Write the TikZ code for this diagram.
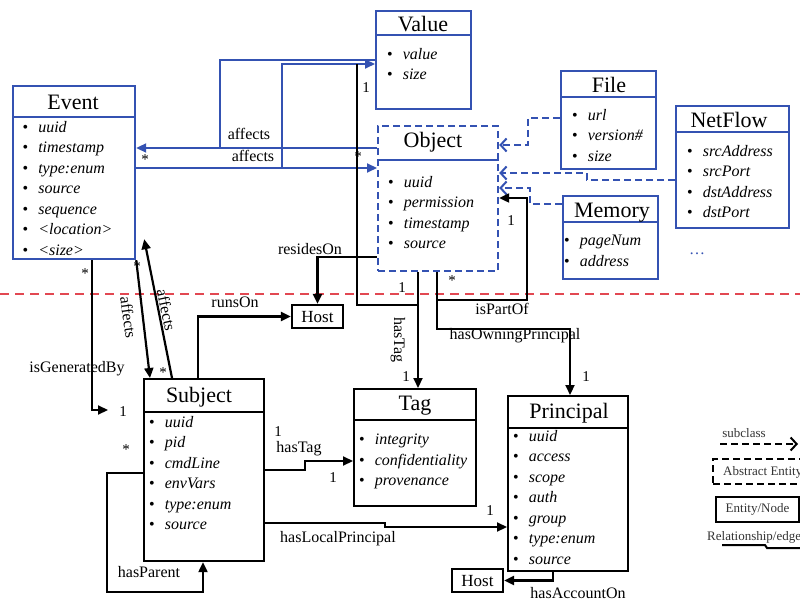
\documentclass[tikz,border=0pt]{standalone}
\usepackage{fontspec}
\usepackage{tikz}
\usetikzlibrary{arrows.meta}
\usetikzlibrary{positioning}
\setmainfont{Liberation Serif}
\definecolor{umlblue}{RGB}{52,82,178}
\definecolor{sepred}{RGB}{226,72,82}
\newcommand{\itm}{\textup{\textbullet}\hspace{10pt}}
\tikzset{cls/.style = {draw, line width=2.2pt, inner sep=0pt, anchor=north west},
         bcls/.style = {cls, draw=umlblue},
         acls/.style = {cls, draw=umlblue, dash pattern=on 7pt off 4pt},
         hostbox/.style = {draw, line width=2.2pt, minimum width=51pt, minimum height=23pt,
                           inner sep=0pt, text height=11.5pt, text depth=0pt,
                           font=\fontsize{17}{19}\selectfont},
         divline/.style = {line width=2pt},
         ttl/.style = {font=\fontsize{22}{24}\selectfont, inner sep=0pt, anchor=base},
         itms/.style = {font=\fontsize{16}{20.5}\selectfont\itshape, align=left,
                        inner sep=0pt, anchor=north west},
         lbl/.style = {font=\fontsize{16}{18}\selectfont, inner sep=0pt, anchor=base},
         mul/.style = {font=\fontsize{15}{17}\selectfont, inner sep=0pt},
         legtxt/.style = {font=\fontsize{13}{15}\selectfont, text=black!80, inner sep=0pt, anchor=base},
         plainrel/.style = {line width=2.2pt},
         rel/.style = {plainrel, -{Triangle[length=10pt, width=9pt]}},
         bline/.style = {line width=2pt, draw=umlblue},
         brel/.style = {bline, -{Triangle[length=10pt, width=9pt]}},
         subrel/.style = {draw=umlblue, line width=2pt, dash pattern=on 7pt off 4pt,
                          -{Straight Barb[length=6pt, width=13pt]}}}

\begin{document}
\begin{tikzpicture}[x=1pt, y=-1pt]
  \useasboundingbox (0,0) rectangle (800,601);
  \clip (0,0) rectangle (800,601);

  % upper part: events, objects
  \node [bcls, minimum width=122pt, minimum height=173pt] (event) at (12,85) {};
  \draw [divline, umlblue] (event.west |- 0,117) -- (event.east |- 0,117);
  \node [ttl] (event-t) at (73,110) {Event};
  \node [itms] (event-i) at (22.5,121) {\itm uuid\\ \itm timestamp\\ \itm type:enum\\
    \itm source\\ \itm sequence\\ \itm <location>\\ \itm <size>};

  \node [bcls, minimum width=95pt, minimum height=98pt] (value) at (375,10) {};
  \draw [divline, umlblue] (value.west |- 0,35) -- (value.east |- 0,35);
  \node [ttl] (value-t) at (423,32) {Value};
  \node [itms] (value-i) at (387,48) {\itm value\\ \itm size};

  \node [acls, minimum width=120pt, minimum height=145pt] (object) at (377,125) {};
  \draw [divline, umlblue] (object.west |- 0,160) -- (object.east |- 0,160);
  \node [ttl] (object-t) at (433,148) {Object};
  \node [itms] (object-i) at (388,176) {\itm uuid\\ \itm permission\\ \itm timestamp\\ \itm source};

  \node [bcls, minimum width=95pt, minimum height=98pt] (file) at (560,70) {};
  \draw [divline, umlblue] (file.west |- 0,97) -- (file.east |- 0,97);
  \node [ttl] (file-t) at (609,93) {File};
  \node [itms] (file-i) at (572,109) {\itm url\\ \itm version\#\\ \itm size};

  \node [bcls, minimum width=113pt, minimum height=122pt] (netflow) at (675,105) {};
  \draw [divline, umlblue] (netflow.west |- 0,132) -- (netflow.east |- 0,132);
  \node [ttl] (netflow-t) at (729,128) {NetFlow};
  \node [itms] (netflow-i) at (687,145) {\itm srcAddress\\ \itm srcPort\\ \itm dstAddress\\ \itm dstPort};

  \node [bcls, minimum width=95pt, minimum height=83pt] (memory) at (562,195) {};
  \draw [divline, umlblue] (memory.west |- 0,222) -- (memory.east |- 0,222);
  \node [ttl] (memory-t) at (612,218) {Memory};
  \node [itms] (memory-i) at (564,235) {\itm pageNum\\ \itm address};

  \node [text=umlblue, font=\fontsize{16}{18}\selectfont] (more) at (697,254) {\dots};

  % lower part: subjects, principals
  \node [cls, minimum width=120pt, minimum height=182pt] (subject) at (143,378) {};
  \draw [divline] (subject.west |- 0,412) -- (subject.east |- 0,412);
  \node [ttl] (subject-t) at (199,402) {Subject};
  \node [itms] (subject-i) at (149,416) {\itm uuid\\ \itm pid\\ \itm cmdLine\\ \itm envVars\\
    \itm type:enum\\ \itm source};

  \node [cls, minimum width=122pt, minimum height=117pt] (tag) at (353,388) {};
  \draw [divline] (tag.west |- 0,420) -- (tag.east |- 0,420);
  \node [ttl] (tag-t) at (415,410) {Tag};
  \node [itms] (tag-i) at (359,434) {\itm integrity\\ \itm confidentiality\\ \itm provenance};

  \node [cls, minimum width=120pt, minimum height=175pt] (principal) at (507,395) {};
  \draw [divline] (principal.west |- 0,428) -- (principal.east |- 0,428);
  \node [ttl] (principal-t) at (569,418) {Principal};
  \node [itms] (principal-i) at (513,430) {\itm uuid\\ \itm access\\ \itm scope\\ \itm auth\\
    \itm group\\ \itm type:enum\\ \itm source};

  \node [hostbox] (host1) at (317.5,316.5) {Host};
  \node [hostbox] (host2) at (477.5,580.5) {Host};
  \coordinate (gen) at (108,410);

  \draw [sepred, line width=2pt, dash pattern=on 9pt off 6pt] (0,294) -- (800,294);

  % affects (blue)
  \draw [brel] (object.west |- 0,148) -- (event.east |- 0,148);
  \draw [bline] (value.west |- 0,60) -| (220,148);
  \draw [brel] (event.east |- 0,168) -- (object.west |- 0,168);
  \draw [brel] (282,168) |- (value.west |- 0,64);
  \node [lbl] (l-aff1) at (249,140) {affects};
  \node [lbl] (l-aff2) at (253,162) {affects};
  \node [mul] (m-aff1) at (145,160) {*};
  \node [mul] (m-aff2) at (358,157) {*};

  % subclass
  \draw [subrel] (file.west |- 0,118) -| (528,145) -- (object.east |- 0,145);
  \draw [subrel] (netflow.west |- 0,180) -| (587,173) -- (object.east |- 0,173);
  \draw [subrel] (memory.west |- 0,204) -| (530,188) -- (object.east |- 0,188);

  % object relations
  \draw [plainrel] ([xshift=-18pt, yshift=-4pt]value.west) |- (418,305);
  \node [mul] (m-val) at (366,88) {1};
  \draw [rel] (object.south -| 418,0) -- (tag.north -| 418,0);
  \node [lbl, rotate=-90] (l-hastag1) at (394,340) {hasTag};
  \node [mul] (m-tag1) at (402,288) {1};
  \node [mul] (m-tag2) at (406,377) {1};
  \draw [rel] (object.south -| 437,0) |- (527,300) |- (object.east |- 0,198);
  \node [lbl] (l-part) at (502,315) {isPartOf};
  \node [mul] (m-part1) at (511,221) {1};
  \node [mul] (m-part2) at (452,281) {*};
  \draw [rel] (object.south -| 437,0) |- (570,329) -- (principal.north -| 570,0);
  \node [lbl] (l-own) at (515,339) {hasOwningPrincipal};
  \node [mul] (m-own) at (586,377) {1};
  \draw [rel] (object.west |- 0,257) -| (host1.north);
  \node [lbl] (l-resides) at (310,255) {residesOn};

  % event and subject
  \draw [rel] (event.south east) -- ([xshift=7pt]subject.north west);
  \node [lbl, rotate=-82] (l-aff3) at (123,318) {affects};
  \node [mul] (m-aff3) at (137,267) {*};
  \draw [rel] ([xshift=29pt]subject.north west) -- ([xshift=8pt, yshift=21pt]event.south east);
  \node [lbl, rotate=-78] (l-aff4) at (161,311) {affects};
  \node [mul] (m-aff4) at (163,373) {*};
  \draw [rel] (event.south -| 92,0) |- (gen);
  \node [lbl] (l-gen) at (77,372) {isGeneratedBy};
  \node [mul] (m-gen1) at (85,274) {*};
  \node [mul] (m-gen2) at (123,412) {1};
  \node [mul] (m-par) at (126,450) {*};
  \draw [rel] (subject.north -| 198,0) |- (host1.west);
  \node [lbl] (l-runs) at (235,308) {runsOn};
  \draw [rel] (subject.west |- 0,473) -| (107,592) -| (subject.south -| 203,0);
  \node [lbl] (l-par) at (149,577) {hasParent};
  \draw [rel] (subject.east |- 0,470) -| (305,461) -- (tag.west |- 0,461);
  \node [lbl] (l-hastag2) at (299,452) {hasTag};
  \node [mul] (m-st1) at (278,432) {1};
  \node [mul] (m-st2) at (333,478) {1};
  \draw [rel] (subject.east |- 0,523) -| (385,527) -- (principal.west |- 0,527);
  \node [lbl] (l-local) at (338,542) {hasLocalPrincipal};
  \node [mul] (m-local) at (490,511) {1};
  \draw [rel] (principal.south -| 553,0) |- (host2.east);
  \node [lbl] (l-acc) at (578,598) {hasAccountOn};

  % legend
  \node [legtxt] (leg-sub) at (744,437) {subclass};
  \draw [line width=2pt, dash pattern=on 7pt off 4pt, -{Straight Barb[length=6pt, width=13pt]}]
    (720,444) -- (798,444);
  \node [draw, line width=2pt, dash pattern=on 7pt off 4pt, minimum width=100pt,
         minimum height=25pt, anchor=north west] (leg-abs) at (712,458) {};
  \node [legtxt, anchor=base west] (leg-abs-t) at (723,475) {Abstract Entity};
  \node [draw, line width=2pt, minimum width=83pt, minimum height=25pt, anchor=north west,
         font=\fontsize{13}{15}\selectfont, text=black!80] (leg-ent) at (715,496) {Entity/Node};
  \node [legtxt, anchor=base west] (leg-rel) at (707,540) {Relationship/edge};
  \draw [rel, line width=2pt] (722,545) -- (765,545) -- (767,548) -- (815,548);
\end{tikzpicture}
\end{document}
